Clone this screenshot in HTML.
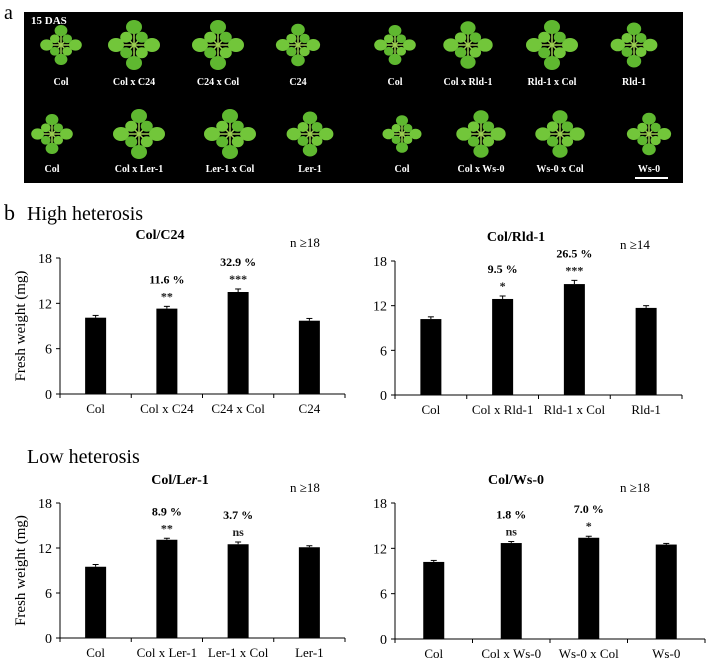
<!DOCTYPE html>
<html><head><meta charset="utf-8"><style>
body{margin:0;background:#fff;width:708px;height:662px;overflow:hidden;font-family:"Liberation Serif",serif}
svg text{font-family:"Liberation Serif",serif}
</style></head><body>
<svg id="fig" width="708" height="662" viewBox="0 0 708 662">
<text x="4" y="19" font-size="20">a</text>
<rect x="24" y="12" width="659" height="171" fill="#000"/>
<text x="31" y="24" font-size="11" font-weight="bold" fill="#fff">15 DAS</text>
<line x1="635" y1="178" x2="668" y2="178" stroke="#fff" stroke-width="2"/>
<g id="plants"></g>
<text x="4" y="220" font-size="22">b</text>
<text x="27" y="220" font-size="20">High heterosis</text>
<text x="27" y="463" font-size="20">Low heterosis</text>
<g id="charts"></g>
</svg>
<script>
const NS="http://www.w3.org/2000/svg";
function mk(tag,attrs,parent){const e=document.createElementNS(NS,tag);for(const k in attrs)e.setAttribute(k,attrs[k]);parent.appendChild(e);return e;}
// photo
const plantX1=[61,134,218,298,395,468,552,634];
const plantX2=[52,139,230,310,402,481,560,649];
const labels1=["Col","Col x C24","C24 x Col","C24","Col","Col x Rld-1","Rld-1 x Col","Rld-1"];
const labels2=["Col","Col x Ler-1","Ler-1 x Col","Ler-1","Col","Col x Ws-0","Ws-0 x Col","Ws-0"];
const sizes1=[0.8,1,1,0.85,0.8,0.95,1,0.9];
const sizes2=[0.8,1,1,0.9,0.75,0.95,0.95,0.85];
const pg=document.getElementById('plants');
function plant(cx,cy,s){
  const g=mk('g',{},pg);
  
  
  const ang=[0,90,180,270,45,135,225,315];
  ang.forEach((a,i)=>{const r=(i<4?18:11)*s;const rad=a*Math.PI/180;
    const x=cx+Math.cos(rad)*r,y=cy+Math.sin(rad)*r;
    mk('line',{x1:cx,y1:cy,x2:x,y2:y,stroke:'#9acd50','stroke-width':1.5},g);
    mk('ellipse',{cx:x,cy:y,rx:(i<4?8:6)*s,ry:(i<4?7:5.5)*s,fill:i%2?'#5fb830':'#72c63a'},g);});
}
plantX1.forEach((x,i)=>{plant(x,45,sizes1[i]);
  const t=mk('text',{x:x,y:85,'font-size':10,'font-weight':'bold',fill:'#fff','text-anchor':'middle'},pg);t.textContent=labels1[i];
  });
plantX2.forEach((x,i)=>{plant(x,134,sizes2[i]);
  const t=mk('text',{x:x,y:172,'font-size':10,'font-weight':'bold',fill:'#fff','text-anchor':'middle'},pg);t.textContent=labels2[i];
  });

// chart data
const yTicks=[0,6,12,18];
const cats1=["Col","Col x C24","C24 x Col","C24"];
const vals1=[10.1,11.3,13.5,9.7];
const errs1=[0.3,0.3,0.4,0.3];
const pct1=["","11.6 %","32.9 %",""];
const sig1=["","**","***",""];
const cats2=["Col","Col x Rld-1","Rld-1 x Col","Rld-1"];
const vals2=[10.2,12.9,14.9,11.7];
const errs2=[0.3,0.4,0.5,0.3];
const pct2=["","9.5 %","26.5 %",""];
const sig2=["","*","***",""];
const cats3=["Col","Col x Ler-1","Ler-1 x Col","Ler-1"];
const vals3=[9.5,13.1,12.5,12.1];
const errs3=[0.3,0.2,0.3,0.2];
const pct3=["","8.9 %","3.7 %",""];
const sig3=["","**","ns",""];
const cats4=["Col","Col x Ws-0","Ws-0 x Col","Ws-0"];
const vals4=[10.2,12.7,13.4,12.5];
const errs4=[0.2,0.2,0.2,0.15];
const pct4=["","1.8 %","7.0 %",""];
const sig4=["","ns","*",""];

const cg=document.getElementById('charts');
function chart(o){
  const g=mk('g',{},cg);
  
  
  const y=v=>o.y0-(v/18)*(o.y0-o.y18);
  const bw=(o.x1-o.x0)/o.cats.length;
  const x=i=>o.x0+bw*(i+0.5);
  const ax=mk('line',{x1:o.x0,y1:o.y18,x2:o.x0,y2:o.y0,stroke:'#000','stroke-width':1},g);
  
  const xa=mk('line',{x1:o.x0,y1:o.y0,x2:o.x1,y2:o.y0,stroke:'#000','stroke-width':1},g);
  
  yTicks.forEach(t=>{mk('line',{x1:o.x0-4,y1:y(t),x2:o.x0,y2:y(t),stroke:'#000'},g);
    const tx=mk('text',{x:o.x0-8,y:y(t)+5,'font-size':14,'text-anchor':'end'},g);tx.textContent=t;
    });
  for(let i=0;i<=o.cats.length;i++)mk('line',{x1:o.x0+bw*i,y1:o.y0,x2:o.x0+bw*i,y2:o.y0+4,stroke:'#000'},g);
  o.cats.forEach((c,i)=>{
    const b=mk('rect',{x:x(i)-10.5,y:y(o.vals[i]),width:21,height:o.y0-y(o.vals[i]),fill:'#000'},g);
    
    const et=y(o.vals[i]+o.errs[i]);
    mk('line',{x1:x(i),y1:et,x2:x(i),y2:y(o.vals[i]),stroke:'#000'},g);
    mk('line',{x1:x(i)-3,y1:et,x2:x(i)+3,y2:et,stroke:'#000'},g);
    const l=mk('text',{x:x(i),y:o.y0+19,'font-size':13,'text-anchor':'middle'},g);l.textContent=c;
    
    if(o.pct[i]){const p=mk('text',{x:x(i),y:et-23,'font-size':12,'font-weight':'bold','text-anchor':'middle'},g);p.textContent=o.pct[i];
      
      const s=mk('text',{x:x(i),y:et-6,'font-size':12,'font-weight':'bold','text-anchor':'middle',fill:'#222'},g);s.textContent=o.sig[i];
      }
  });
  const t=mk('text',{x:o.tx,y:o.ty,'font-size':14,'font-weight':'bold','text-anchor':'middle'},g);t.innerHTML=o.title;
  
  const n=mk('text',{x:o.nx,y:o.ty+8,'font-size':13,'text-anchor':'middle'},g);n.textContent=o.n;
  
  if(o.ylab){const yl=mk('text',{x:0,y:0,'font-size':15,'text-anchor':'middle',transform:`translate(25,${(o.y0+o.y18)/2}) rotate(-90)`},g);yl.textContent='Fresh weight (mg)';
    }
}
chart({name:'chart-col-c24',x0:60,x1:345,y0:394,y18:258,cats:cats1,vals:vals1,errs:errs1,pct:pct1,sig:sig1,title:'Col/C24',tx:160,ty:239,nx:305,n:'n ≥18',ylab:true});
chart({name:'chart-col-rld1',x0:395,x1:682,y0:395,y18:261,cats:cats2,vals:vals2,errs:errs2,pct:pct2,sig:sig2,title:'Col/Rld-1',tx:516,ty:241,nx:635,n:'n ≥14',ylab:false});
chart({name:'chart-col-ler1',x0:60,x1:345,y0:638,y18:503,cats:cats3,vals:vals3,errs:errs3,pct:pct3,sig:sig3,title:'Col/L<tspan font-style="italic">er</tspan>-1',tx:180,ty:484,nx:305,n:'n ≥18',ylab:true});
chart({name:'chart-col-ws0',x0:395,x1:705,y0:639,y18:503,cats:cats4,vals:vals4,errs:errs4,pct:pct4,sig:sig4,title:'Col/Ws-0',tx:516,ty:484,nx:635,n:'n ≥18',ylab:false});
</script>
</body></html>
